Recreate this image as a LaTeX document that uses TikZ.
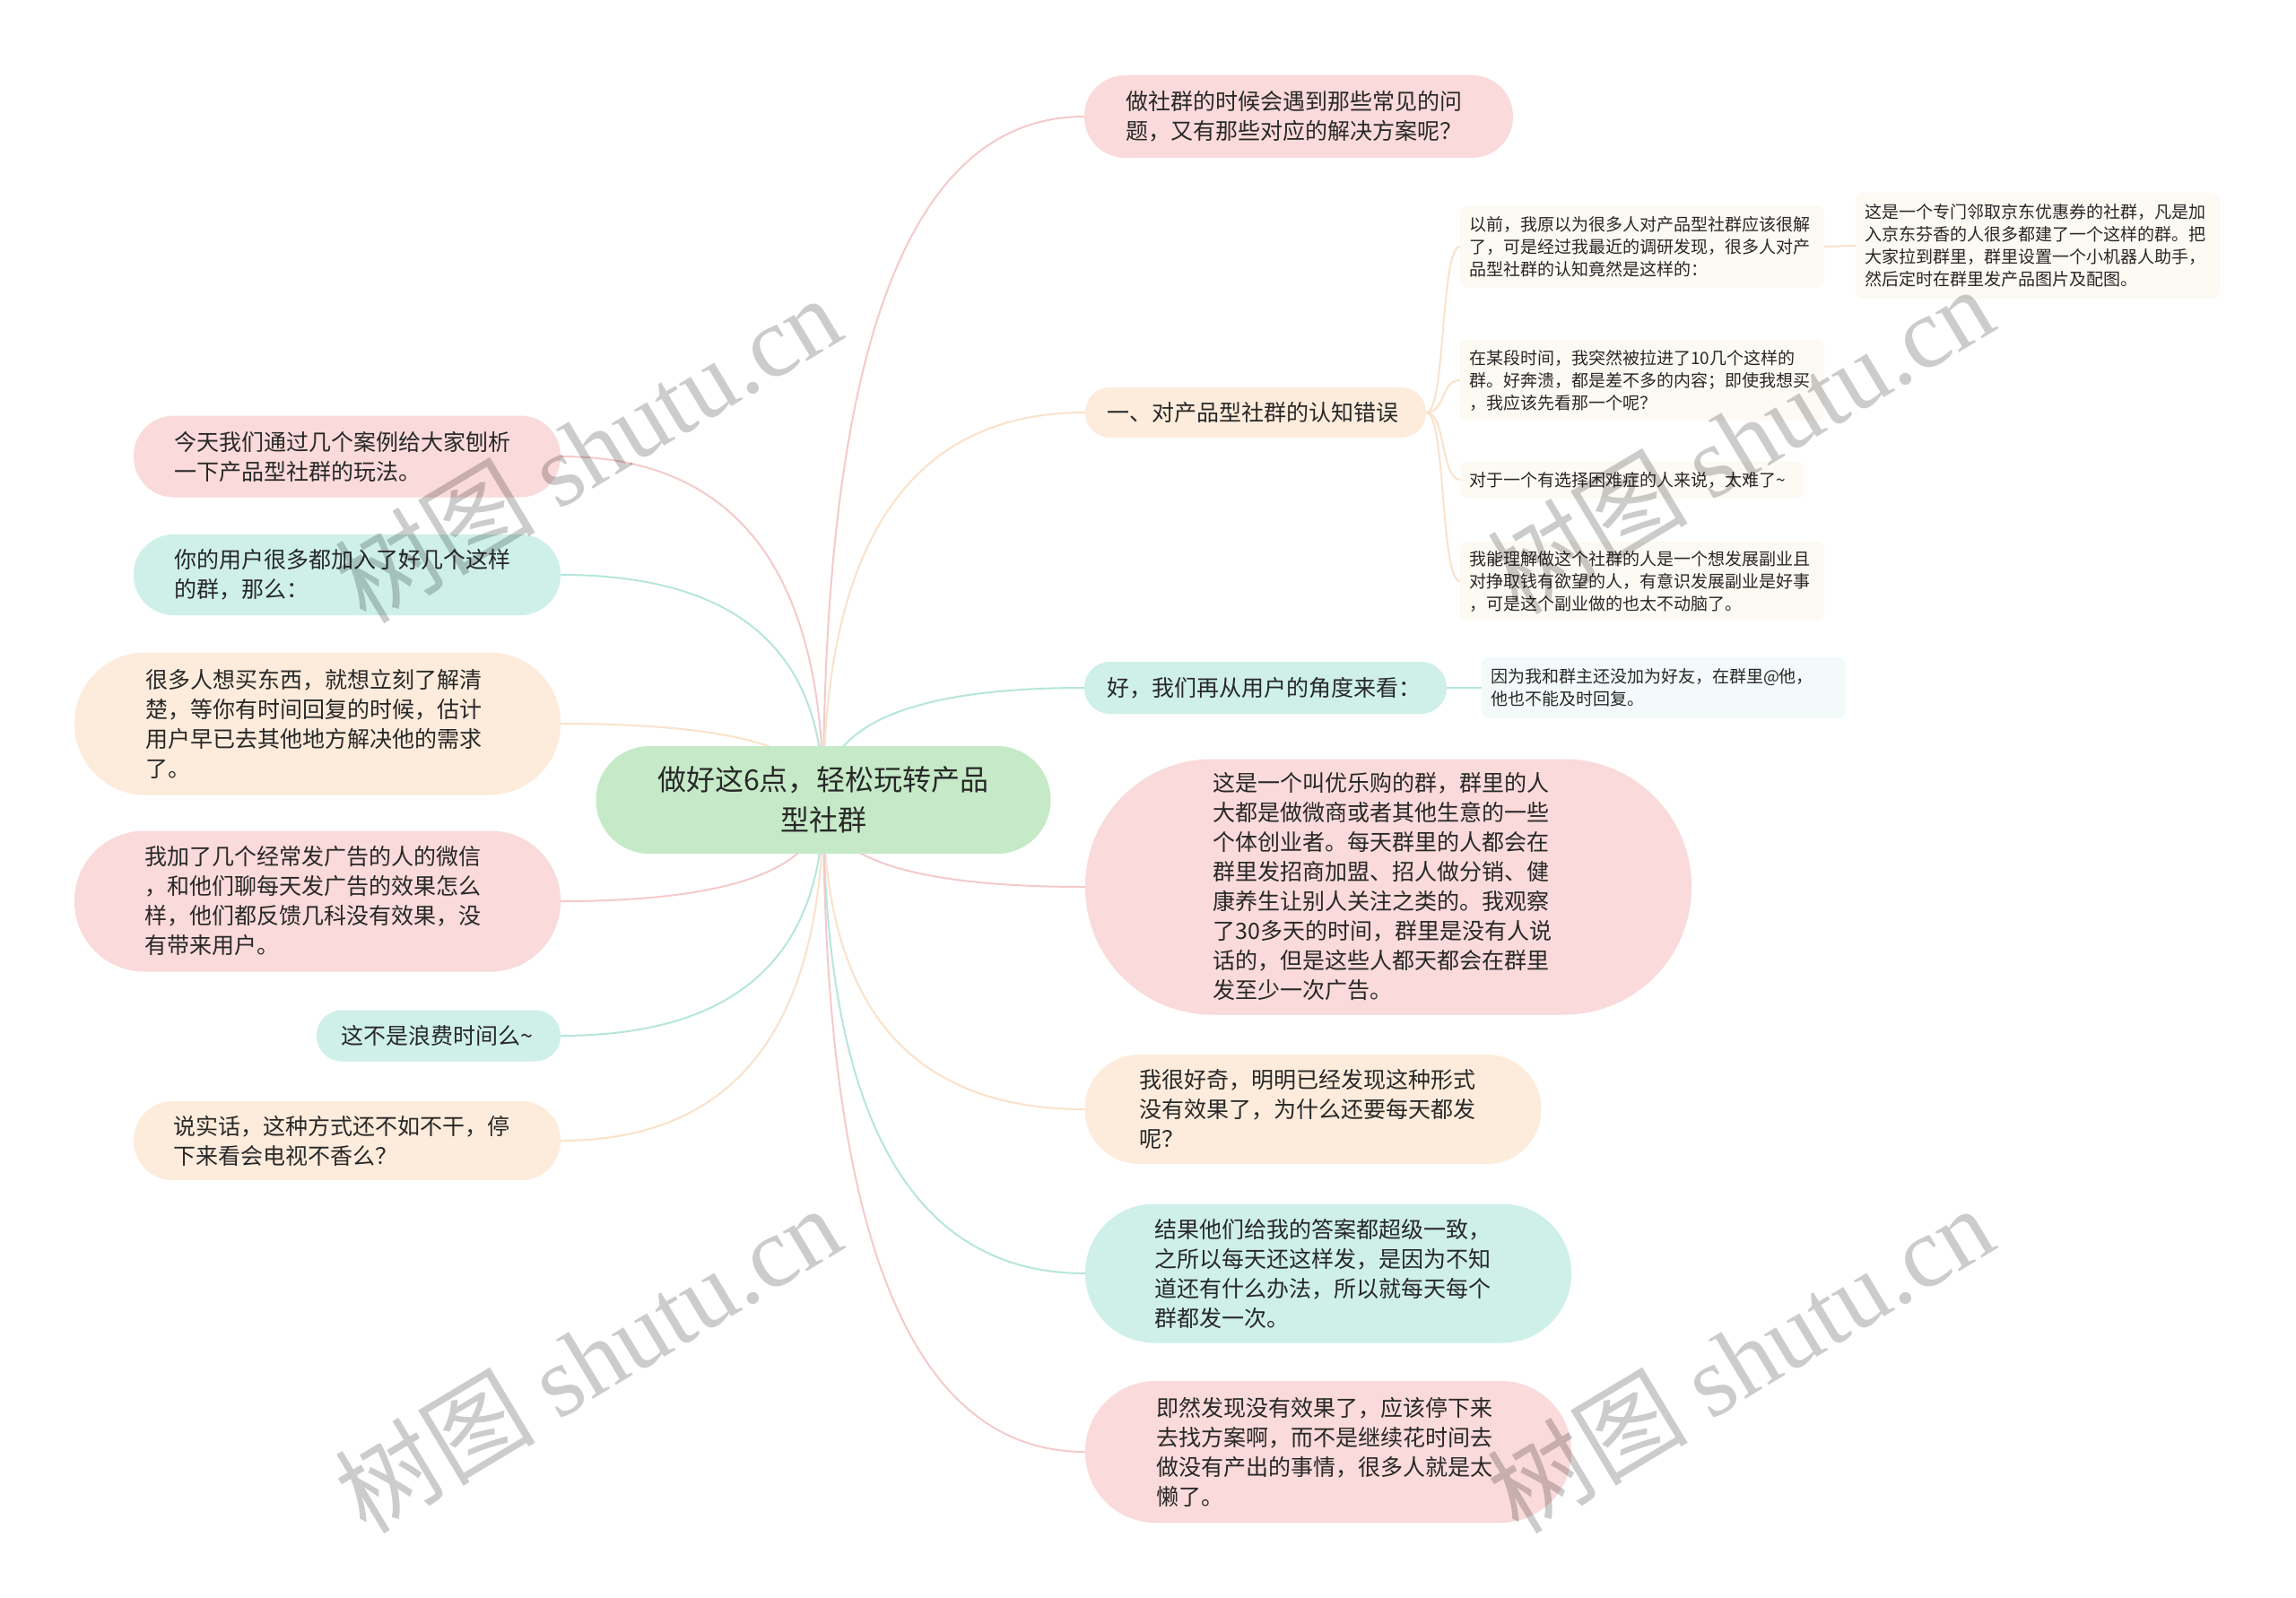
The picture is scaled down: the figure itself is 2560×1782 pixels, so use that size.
\documentclass[tikz,border=0pt]{standalone}
\usepackage{fontspec}
\setmainfont{Noto Sans CJK SC}
\newfontfamily\wmserif{Liberation Serif}
\usetikzlibrary{calc}
\definecolor{txt}{RGB}{40,40,40}
\definecolor{pinkF}{RGB}{250,218,218}
\definecolor{peachF}{RGB}{253,236,220}
\definecolor{tealF}{RGB}{206,240,233}
\definecolor{greenF}{RGB}{198,234,200}
\definecolor{pinkL}{RGB}{245,202,202}
\definecolor{peachL}{RGB}{250,226,202}
\definecolor{tealL}{RGB}{182,230,220}
\definecolor{subP}{RGB}{253,249,243}
\definecolor{subT}{RGB}{243,251,250}
\pgfdeclarelayer{paper}
\pgfdeclarelayer{bg}
\pgfdeclarelayer{fg}
\pgfsetlayers{paper,bg,main,fg}
\tikzset{
  lvl/.style={rectangle, inner xsep=0pt, inner ysep=0pt, align=left, text=txt,
    font=\fontsize{25}{33}\selectfont},
  pill/.style n args={4}{minimum width=#1pt, minimum height=#2pt, rounded corners=#3pt, text width=#4pt},
  sub/.style={rectangle, rounded corners=8pt, inner xsep=10pt, inner ysep=6pt, align=left, text=txt,
    font=\fontsize{19}{25}\selectfont},
  conn/.style={line width=2pt},
  wm/.style={text=black, text opacity=0.2, font=\fontsize{112}{120}\selectfont, rotate=31, inner sep=0pt}
}
\newcommand\rlink[2]{\draw[conn,#1] (root.center) .. controls ($(root.center)!0.667!(root.center |- #2)$) and ($(#2)!0.667!(root.center |- #2)$) .. (#2);}
\newcommand\slink[2]{\draw[conn,#1] (r2.east) .. controls +(22,0) and +(-22,0) .. (#2);}
\begin{document}
\begin{tikzpicture}[x=1pt,y=-1pt]
\useasboundingbox (0,0) rectangle (2560,1782);
\begin{pgfonlayer}{paper}
\fill[white] (0,0) rectangle (2560,1782);
\end{pgfonlayer}

% root
\node[lvl, fill=greenF, pill={507}{120}{59.5}{392}, align=center,
  font=\fontsize{32}{45}\selectfont] (root) at (918,892)
  {做好这6点，轻松玩转产品\\型社群};

% right side
\node[lvl, fill=pinkF, pill={478}{92}{45.5}{386}] (r1) at (1448,130)
  {做社群的时候会遇到那些常见的问\\题，又有那些对应的解决方案呢？};
\node[lvl, fill=peachF, pill={380}{56}{27.5}{332}] (r2) at (1400,460)
  {一、对产品型社群的认知错误};
\node[lvl, fill=tealF, pill={404}{58}{28.5}{354}] (r3) at (1411,767)
  {好，我们再从用户的角度来看：};
\node[lvl, fill=pinkF, pill={676}{285}{142}{391}] (r4) at (1548,989)
  {这是一个叫优乐购的群，群里的人\\大都是做微商或者其他生意的一些\\个体创业者。每天群里的人都会在\\群里发招商加盟、招人做分销、健\\康养生让别人关注之类的。我观察\\了30多天的时间，群里是没有人说\\话的，但是这些人都天都会在群里\\发至少一次广告。};
\node[lvl, fill=peachF, pill={509}{122}{60.5}{387}] (r5) at (1464,1237)
  {我很好奇，明明已经发现这种形式\\没有效果了，为什么还要每天都发\\呢？};
\node[lvl, fill=tealF, pill={542}{155}{77}{387}] (r6) at (1481,1420)
  {结果他们给我的答案都超级一致，\\之所以每天还这样发，是因为不知\\道还有什么办法，所以就每天每个\\群都发一次。};
\node[lvl, fill=pinkF, pill={542}{158}{78.5}{384}] (r7) at (1481,1619)
  {即然发现没有效果了，应该停下来\\去找方案啊，而不是继续花时间去\\做没有产出的事情，很多人就是太\\懒了。};

% left side
\node[lvl, fill=pinkF, pill={476}{91}{45}{385}] (l1) at (387,509)
  {今天我们通过几个案例给大家刨析\\一下产品型社群的玩法。};
\node[lvl, fill=tealF, pill={476}{90}{44.5}{386}] (l2) at (387,641)
  {你的用户很多都加入了好几个这样\\的群，那么：};
\node[lvl, fill=peachF, pill={542}{159}{79}{384}] (l3) at (354,807)
  {很多人想买东西，就想立刻了解清\\楚，等你有时间回复的时候，估计\\用户早已去其他地方解决他的需求\\了。};
\node[lvl, fill=pinkF, pill={542}{157}{78}{385}] (l4) at (354,1005)
  {我加了几个经常发广告的人的微信\\，和他们聊每天发广告的效果怎么\\样，他们都反馈几科没有效果，没\\有带来用户。};
\node[lvl, fill=tealF, pill={272}{57}{28}{218}] (l5) at (489,1155)
  {这不是浪费时间么\textasciitilde};
\node[lvl, fill=peachF, pill={476}{88}{43.5}{388}] (l6) at (387,1272)
  {说实话，这种方式还不如不干，停\\下来看会电视不香么？};

% sub nodes
\node[sub, fill=subP, text width=386pt, minimum height=91pt] (s1) at (1831,275)
  {以前，我原以为很多人对产品型社群应该很解\\了，可是经过我最近的调研发现，很多人对产\\品型社群的认知竟然是这样的：};
\node[sub, fill=subP, text width=386pt, minimum height=118pt] (s1c) at (2272,274)
  {这是一个专门邻取京东优惠券的社群，凡是加\\入京东芬香的人很多都建了一个这样的群。把\\大家拉到群里，群里设置一个小机器人助手，\\然后定时在群里发产品图片及配图。};
\node[sub, fill=subP, text width=386pt, minimum height=90pt] (s2) at (1831,424)
  {在某段时间，我突然被拉进了10几个这样的\\群。好奔溃，都是差不多的内容；即使我想买\\，我应该先看那一个呢？};
\node[sub, fill=subP, text width=363pt, minimum height=41pt] (s3) at (1820,535)
  {对于一个有选择困难症的人来说，太难了\textasciitilde};
\node[sub, fill=subP, text width=386pt, minimum height=88pt] (s4) at (1831,648)
  {我能理解做这个社群的人是一个想发展副业且\\对挣取钱有欲望的人，有意识发展副业是好事\\，可是这个副业做的也太不动脑了。};
\node[sub, fill=subT, text width=386pt, minimum height=68pt] (t1) at (1855,767)
  {因为我和群主还没加为好友，在群里@他，\\他也不能及时回复。};

\begin{pgfonlayer}{bg}
\rlink{pinkL}{r1.west}
\rlink{peachL}{r2.west}
\rlink{tealL}{r3.west}
\rlink{pinkL}{r4.west}
\rlink{peachL}{r5.west}
\rlink{tealL}{r6.west}
\rlink{pinkL}{r7.west}
\rlink{pinkL}{l1.east}
\rlink{tealL}{l2.east}
\rlink{peachL}{l3.east}
\rlink{pinkL}{l4.east}
\rlink{tealL}{l5.east}
\rlink{peachL}{l6.east}
\slink{peachL}{s1.west}
\slink{peachL}{s2.west}
\slink{peachL}{s3.west}
\slink{peachL}{s4.west}
\draw[conn,peachL] (s1.east) -- (s1c.west);
\draw[conn,tealL] (r3.east) -- (t1.west);
\end{pgfonlayer}

\begin{pgfonlayer}{fg}
\node[wm] (w1) at (655,500) {树图 {\wmserif shutu.cn}};
\node[wm] (w2) at (1940,490) {树图 {\wmserif shutu.cn}};
\node[wm] (w3) at (655,1515) {树图 {\wmserif shutu.cn}};
\node[wm] (w4) at (1940,1515) {树图 {\wmserif shutu.cn}};
\end{pgfonlayer}
\end{tikzpicture}
\end{document}
